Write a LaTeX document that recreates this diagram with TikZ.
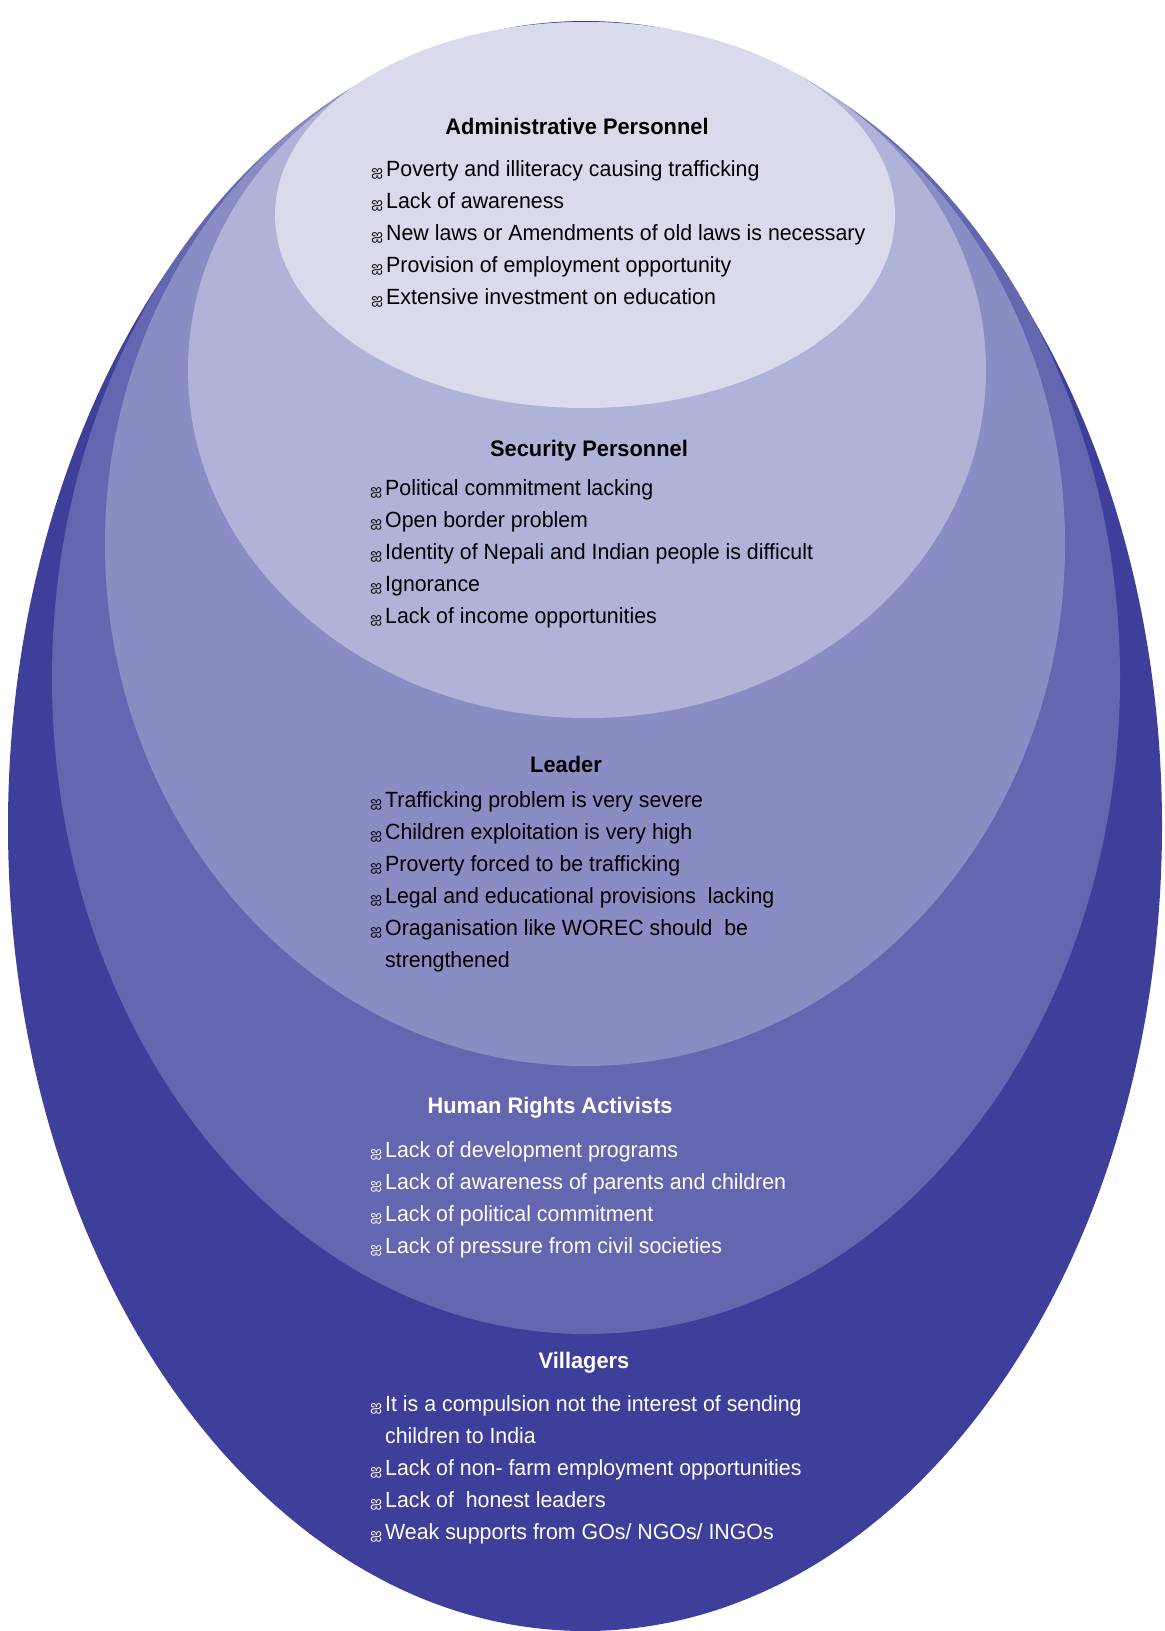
\documentclass[tikz,border=0pt]{standalone}
\usepackage{fontspec}
\setmainfont{Liberation Sans}[FakeStretch=0.97]
\newfontfamily\bulfont[Script=Tamil]{Hind Madurai}
\usetikzlibrary{positioning}

\definecolor{villcol}{HTML}{3D3F9A}
\definecolor{hrcol}{HTML}{6467B0}
\definecolor{leadcol}{HTML}{8A8DC3}
\definecolor{seccol}{HTML}{B0B3D7}
\definecolor{admcol}{HTML}{D9DAEC}

\newcommand{\bul}{\makebox[15pt][l]{\bulfont\fontsize{14}{14}\selectfont ஐ}}
\newcommand{\nobul}{\hspace*{15pt}}

\begin{document}
\begin{tikzpicture}[x=1pt, y=-1pt, font={\fontsize{22}{32}\selectfont},
title/.style={font={\fontsize{22.5}{26}\selectfont\bfseries}, inner sep=0pt},
items/.style={align=left, anchor=north west, inner sep=0pt},
]
\useasboundingbox (0,0) rectangle (1165,1631);

% nested ovals, outermost first
\fill[villcol] (585,826) ellipse [x radius=577, y radius=805];
\fill[hrcol]   (586,678) ellipse [x radius=534, y radius=656];
\fill[leadcol] (585,544) ellipse [x radius=480, y radius=522];
\fill[seccol]  (587,370) ellipse [x radius=399, y radius=348];
\fill[admcol]  (585,215) ellipse [x radius=310, y radius=193];

% Administrative Personnel
\node[title] (adm) at (577,126) {Administrative Personnel};
\node[items] (admlist) at (371,160) {\bul Poverty and illiteracy causing trafficking\\
\bul Lack of awareness\\
\bul New laws or Amendments of old laws is necessary\\
\bul Provision of employment opportunity\\
\bul Extensive investment on education};

% Security Personnel
\node[title] (sec) at (589,451) {Security Personnel};
\node[items] (seclist) at (370,479) {\bul Political commitment lacking\\
\bul Open border problem\\
\bul Identity of Nepali and Indian people is difficult\\
\bul Ignorance\\
\bul Lack of income opportunities};

% Leader
\node[title] (lead) at (566,764) {Leader};
\node[items] (leadlist) at (370,791) {\bul Trafficking problem is very severe\\
\bul Children exploitation is very high\\
\bul Proverty forced to be trafficking\\
\bul Legal and educational provisions\ \ lacking\\
\bul Oraganisation like WOREC should\ \ be\\
\nobul strengthened};

% Human Rights Activists
\node[title, text=white] (hr) at (550,1108) {Human Rights Activists};
\node[items, text=white] (hrlist) at (370,1141) {\bul Lack of development programs\\
\bul Lack of awareness of parents and children\\
\bul Lack of political commitment\\
\bul Lack of pressure from civil societies};

% Villagers
\node[title, text=white] (vill) at (584,1363) {Villagers};
\node[items, text=white] (villlist) at (370,1395) {\bul It is a compulsion not the interest of sending\\
\nobul children to India\\
\bul Lack of non- farm employment opportunities\\
\bul Lack of\ \ honest leaders\\
\bul Weak supports from GOs/ NGOs/ INGOs};

\end{tikzpicture}
\end{document}
